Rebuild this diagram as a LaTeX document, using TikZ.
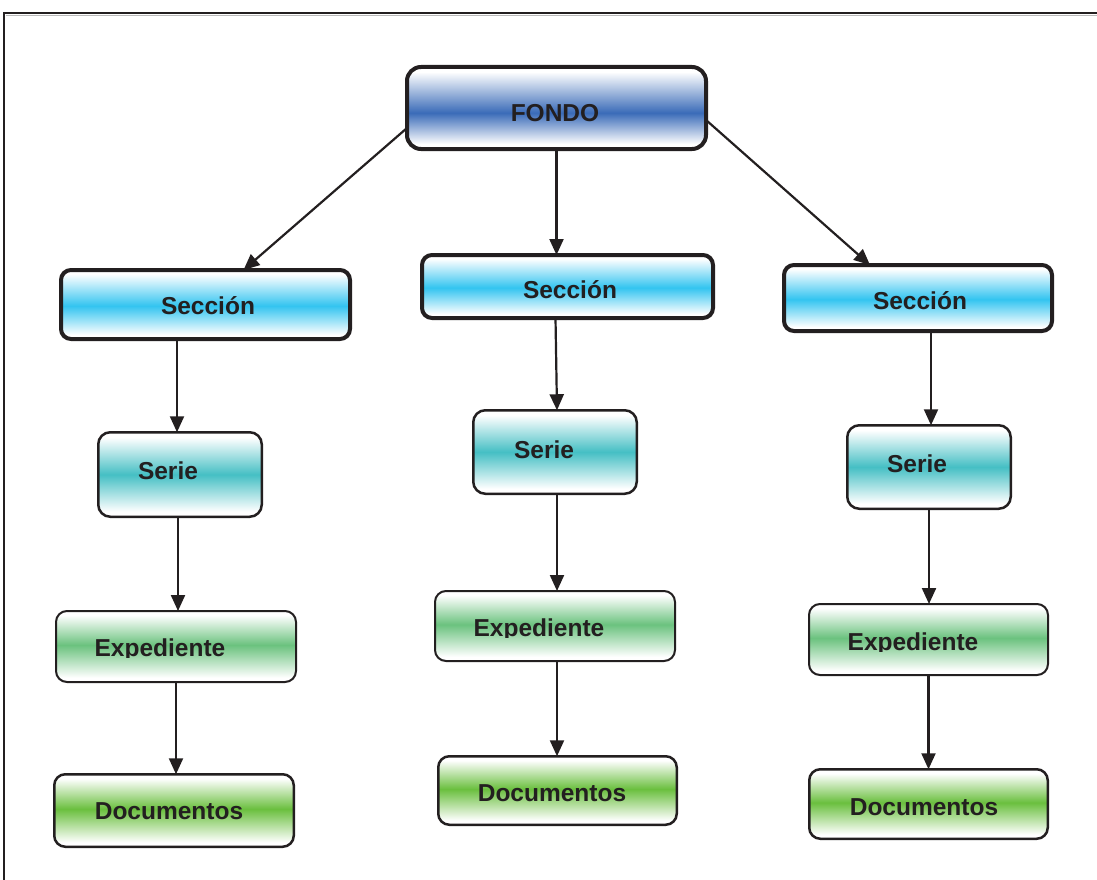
\documentclass[tikz,border=0pt]{standalone}
\usepackage{fontspec}
\setmainfont{Liberation Sans}
\usetikzlibrary{arrows.meta}

\definecolor{ink}{HTML}{231F20}
\definecolor{fondoblue}{HTML}{3A6BB8}
\definecolor{seccioncyan}{HTML}{33C4F0}
\definecolor{serieteal}{HTML}{45BFC4}
\definecolor{expgreen}{HTML}{6BC27E}
\definecolor{docgreen}{HTML}{6ABF3E}

% white - colour - white bands across the height of each box
\pgfdeclareverticalshading{fondoshade}{100bp}{color(0bp)=(white); color(25bp)=(white); color(28bp)=(white); color(47bp)=(fondoblue); color(72bp)=(white); color(100bp)=(white)}
\pgfdeclareverticalshading{seccionshade}{100bp}{color(0bp)=(white); color(25bp)=(white); color(28bp)=(white); color(49bp)=(seccioncyan); color(72bp)=(white); color(100bp)=(white)}
\pgfdeclareverticalshading{serieshade}{100bp}{color(0bp)=(white); color(25bp)=(white); color(28bp)=(white); color(50bp)=(serieteal); color(72bp)=(white); color(100bp)=(white)}
\pgfdeclareverticalshading{expshade}{100bp}{color(0bp)=(white); color(25bp)=(white); color(28bp)=(white); color(51bp)=(expgreen); color(72bp)=(white); color(100bp)=(white)}
\pgfdeclareverticalshading{docshade}{100bp}{color(0bp)=(white); color(25bp)=(white); color(28bp)=(white); color(51bp)=(docgreen); color(72bp)=(white); color(100bp)=(white)}

\tikzset{
  x=1pt, y=-1pt,
  basebox/.style={draw=ink, inner sep=0pt, outer sep=0pt},
  fondobox/.style={basebox, line width=4pt, rounded corners=14pt, shading=fondoshade},
  seccionbox/.style={basebox, line width=4pt, rounded corners=10pt, shading=seccionshade},
  seriebox/.style={basebox, line width=2.5pt, rounded corners=12pt, shading=serieshade},
  expbox/.style={basebox, line width=2pt, rounded corners=11pt, shading=expshade},
  docbox/.style={basebox, line width=2.5pt, rounded corners=11pt, shading=docshade},
  lbl/.style={anchor=base, inner sep=0pt, text=ink, font=\bfseries\fontsize{24.5}{28}\selectfont},
  link/.style={draw=ink, line width=2.2pt, -{Triangle[length=16pt,width=14pt]}},
}

\begin{document}
\begin{tikzpicture}
\useasboundingbox (0,0) rectangle (1097,880);

% frame
\draw[gray!55, line width=1.5pt] (5.5,15.5) -- (1098,15.5);
\draw[ink, line width=2pt] (4,882) -- (4,13) -- (1098,13);

% boxes
\node[fondobox, minimum width=299, minimum height=82] (fondo) at (556.5,108) {};

\node[seccionbox, minimum width=289, minimum height=69] (secL) at (205.5,304.5) {};
\node[seccionbox, minimum width=291, minimum height=63] (secM) at (567.5,286.5) {};
\node[seccionbox, minimum width=268, minimum height=66] (secR) at (918,298) {};

\node[seriebox, minimum width=163.5, minimum height=84.5] (serL) at (180,474.5) {};
\node[seriebox, minimum width=163.5, minimum height=83.5] (serM) at (555,452) {};
\node[seriebox, minimum width=163.5, minimum height=83.5] (serR) at (929,467) {};

\node[expbox, minimum width=240, minimum height=71] (expL) at (176,646.5) {};
\node[expbox, minimum width=240, minimum height=70] (expM) at (555,626) {};
\node[expbox, minimum width=239, minimum height=71] (expR) at (928.5,639.5) {};

\node[docbox, minimum width=239.5, minimum height=72.5] (docL) at (174,810.5) {};
\node[docbox, minimum width=238.5, minimum height=68.5] (docM) at (557.5,790.5) {};
\node[docbox, minimum width=238.5, minimum height=69.5] (docR) at (928.5,804) {};

% labels
\node[lbl] (tF) at (555,122) {FONDO};
\node[lbl] (tSL) at (208,314) {Sección};
\node[lbl] (tSM) at (570,298.5) {Sección};
\node[lbl] (tSR) at (920,309) {Sección};
\node[lbl] (tRL) at (168,479) {Serie};
\node[lbl] (tRM) at (544,458) {Serie};
\node[lbl] (tRR) at (917,472) {Serie};
\begin{scope}
  \clip (50,600) rectangle (300,657);
  \node[lbl] (tEL) at (160,656) {Expediente};
\end{scope}
\begin{scope}
  \clip (430,580) rectangle (680,637);
  \node[lbl] (tEM) at (539,636) {Expediente};
\end{scope}
\begin{scope}
  \clip (800,590) rectangle (1052,651);
  \node[lbl] (tER) at (913,650) {Expediente};
\end{scope}
\node[lbl] (tDL) at (169,819) {Documentos};
\node[lbl] (tDM) at (552,801) {Documentos};
\node[lbl] (tDR) at (924,815) {Documentos};

% connectors from the top box
\coordinate (fL) at ([yshift=-20pt]fondo.west);
\coordinate (fR) at ([yshift=-12pt]fondo.east);
\draw[link] (fL) -- ([xshift=38pt]secL.north);
\draw[link] (fondo.south) -- (fondo.south |- secM.north);
\draw[link] (fR) -- ([xshift=-48pt]secR.north);

% left column
\draw[link] ([xshift=-3pt]serL.north |- secL.south) -- ([xshift=-3pt]serL.north);
\draw[link] ([xshift=-2pt]serL.south) -- ([xshift=-2pt]serL.south |- expL.north);
\draw[link] (expL.south) -- (expL.south |- docL.north);

% middle column
\draw[link] ([xshift=-12pt]secM.south) -- ([xshift=2pt]serM.north);
\draw[link] ([xshift=2pt]serM.south) -- ([xshift=2pt]serM.south |- expM.north);
\draw[link] ([xshift=2pt]expM.south) -- ([xshift=2pt]expM.south |- docM.north);

% right column
\draw[link] ([xshift=2pt]serR.north |- secR.south) -- ([xshift=2pt]serR.north);
\draw[link] (serR.south) -- (serR.south |- expR.north);
\draw[link] (expR.south) -- (expR.south |- docR.north);
\end{tikzpicture}
\end{document}
